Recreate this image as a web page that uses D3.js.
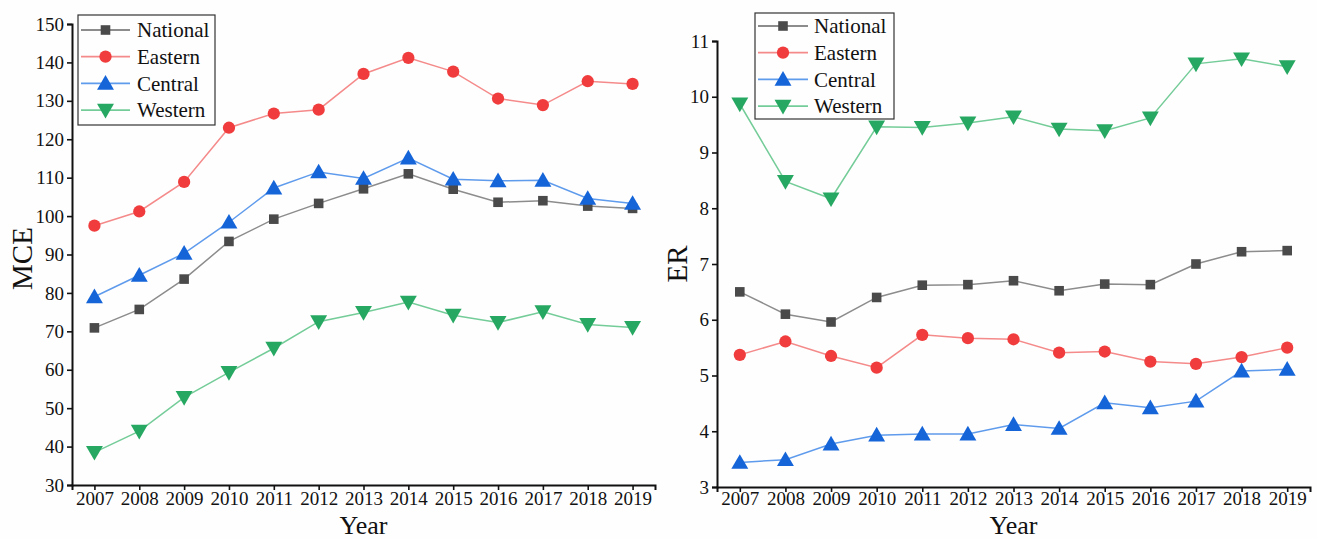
<!DOCTYPE html>
<html>
<head>
<meta charset="utf-8">
<script src="https://cdn.jsdelivr.net/npm/d3@7"></script>
<style>
  html, body { margin: 0; padding: 0; background: #fefefe; }
  svg { display: block; }
  text { font-family: "Liberation Serif", "Times New Roman", serif; fill: #111; }
</style>
</head>
<body>
<svg id="chart" width="1317" height="539"></svg>
<script>
// Years on the shared x axis
const years = [2007, 2008, 2009, 2010, 2011, 2012, 2013, 2014, 2015, 2016, 2017, 2018, 2019];

// Left panel: MCE by region
const mceNational = [70.9, 75.7, 83.6, 93.4, 99.2, 103.3, 107.1, 111.0, 107.0, 103.6, 104.0, 102.6, 102.0];
const mceEastern  = [97.5, 101.2, 108.9, 123.0, 126.7, 127.7, 137.0, 141.2, 137.6, 130.6, 128.9, 135.1, 134.4];
const mceCentral  = [79.0, 84.6, 90.3, 98.4, 107.3, 111.5, 109.8, 115.1, 109.6, 109.2, 109.3, 104.6, 103.3];
const mceWestern  = [38.5, 44.0, 52.8, 59.3, 65.6, 72.5, 74.9, 77.6, 74.2, 72.3, 75.1, 71.8, 71.0];
const mceTicks = [30, 40, 50, 60, 70, 80, 90, 100, 110, 120, 130, 140, 150];

// Right panel: ER by region
const erNational = [6.50, 6.10, 5.96, 6.40, 6.62, 6.63, 6.70, 6.52, 6.64, 6.63, 7.00, 7.22, 7.24];
const erEastern  = [5.37, 5.61, 5.35, 5.14, 5.73, 5.67, 5.65, 5.41, 5.43, 5.25, 5.21, 5.33, 5.50];
const erCentral  = [3.44, 3.49, 3.77, 3.93, 3.95, 3.95, 4.12, 4.05, 4.51, 4.42, 4.54, 5.08, 5.11];
const erWestern  = [9.87, 8.48, 8.17, 9.46, 9.45, 9.53, 9.64, 9.42, 9.39, 9.62, 10.59, 10.68, 10.54];
const erTicks = [3, 4, 5, 6, 7, 8, 9, 10, 11];

const seriesNames = ["National", "Eastern", "Central", "Western"];

// Line / marker styling per series
const styles = {
  National: { line: "#8c8c8c", fill: "#4a4a4a", symbol: d3.symbolSquare, size: 92 },
  Eastern:  { line: "#f58a8a", fill: "#f03c3c", symbol: d3.symbolCircle, size: 118 },
  Central:  { line: "#5f9bec", fill: "#1565d8", symbol: d3.symbolTriangle, size: 92, dy: 1.5 },
  Western:  { line: "#74cc98", fill: "#27a862", symbol: d3.symbolTriangle, size: 92, rot: 180, dy: -1.5 }
};

const svg = d3.select("#chart");

function drawPanel(cfg) {
  const g = svg.append("g");
  const x = d3.scaleLinear().domain([2006.5, 2019.5]).range([cfg.x0, cfg.x1]);
  const y = d3.scaleLinear().domain(cfg.yDomain).range([cfg.y1, cfg.y0]);

  // Axes
  const xAxis = d3.axisBottom(x).tickValues(years).tickFormat(d3.format("d")).tickSizeOuter(0).tickSize(5).tickPadding(cfg.xPad);
  const yAxis = d3.axisLeft(y).tickValues(cfg.ticks).tickFormat(d3.format("d")).tickSizeOuter(0).tickSize(5).tickPadding(3);

  const gx = g.append("g").attr("transform", `translate(0,${cfg.y1})`).call(xAxis);
  const gy = g.append("g").attr("transform", `translate(${cfg.x0},0)`).call(yAxis);
  [gx, gy].forEach(a => {
    a.select(".domain").attr("stroke", "#111").attr("stroke-width", 2);
    a.selectAll(".tick line").attr("stroke", "#111").attr("stroke-width", 1.6);
    a.selectAll(".tick text").style("font-family", '"Liberation Serif", serif').style("font-size", "19px").attr("fill", "#111");
  });

  // Axis titles
  g.append("text")
    .attr("x", (cfg.x0 + cfg.x1) / 2).attr("y", 533.5)
    .attr("text-anchor", "middle").style("font-size", "26px").text("Year");
  g.append("text")
    .attr("transform", `translate(${cfg.titleX},${(cfg.y0 + cfg.y1) / 2 + cfg.titleDy}) rotate(-90)`)
    .attr("text-anchor", "middle").style("font-size", "29px").text(cfg.title);

  // Lines and markers
  const line = d3.line().x((d, i) => x(years[i])).y(d => y(d));
  seriesNames.forEach((name, k) => {
    const vals = cfg.data[k];
    const st = styles[name];
    g.append("path").datum(vals)
      .attr("fill", "none").attr("stroke", st.line).attr("stroke-width", 1.5)
      .attr("d", line);
  });
  seriesNames.forEach((name, k) => {
    const vals = cfg.data[k];
    const st = styles[name];
    g.selectAll(null).data(vals).enter().append("path")
      .attr("d", d3.symbol().type(st.symbol).size(st.size * (st.symbol === d3.symbolTriangle ? 1.35 : 1)))
      .attr("transform", (d, i) => `translate(${x(years[i])},${y(d) + (st.dy || 0)}) rotate(${st.rot || 0})`)
      .attr("fill", st.fill);
  });

  // Legend
  const lg = g.append("g");
  const L = cfg.legend;
  lg.append("rect").attr("x", L.x).attr("y", L.y).attr("width", L.w).attr("height", L.h)
    .attr("fill", "#fefefe").attr("stroke", "#333").attr("stroke-width", 1.2);
  seriesNames.forEach((name, k) => {
    const st = styles[name];
    const ry = L.y + L.rowStart + k * L.rowGap;
    lg.append("line").attr("x1", L.x + 3).attr("x2", L.x + 3 + L.lineLen)
      .attr("y1", ry).attr("y2", ry).attr("stroke", st.line).attr("stroke-width", 1.8);
    lg.append("path")
      .attr("d", d3.symbol().type(st.symbol).size(st.size * (st.symbol === d3.symbolTriangle ? 1.35 : 1)))
      .attr("transform", `translate(${L.x + 3 + L.lineLen / 2},${ry + (st.dy || 0)}) rotate(${st.rot || 0})`)
      .attr("fill", st.fill);
    lg.append("text").attr("x", L.x + L.textX).attr("y", ry).attr("dy", "0.35em")
      .style("font-size", "21px").text(name);
  });
}

drawPanel({
  x0: 72, x1: 655, y0: 24, y1: 485, xPad: 2,
  yDomain: [30, 150], ticks: mceTicks,
  title: "MCE", titleX: 32, titleDy: 4,
  data: [mceNational, mceEastern, mceCentral, mceWestern],
  legend: { x: 78, y: 15, w: 137, h: 110, rowStart: 15, rowGap: 26.7, lineLen: 49, textX: 59 }
});

drawPanel({
  x0: 717, x1: 1310, y0: 41, y1: 487, xPad: 0,
  yDomain: [3, 11], ticks: erTicks,
  title: "ER", titleX: 687, titleDy: 0,
  data: [erNational, erEastern, erCentral, erWestern],
  legend: { x: 755, y: 13, w: 139, h: 106, rowStart: 13, rowGap: 26.7, lineLen: 50, textX: 59 }
});
</script>
</body>
</html>
